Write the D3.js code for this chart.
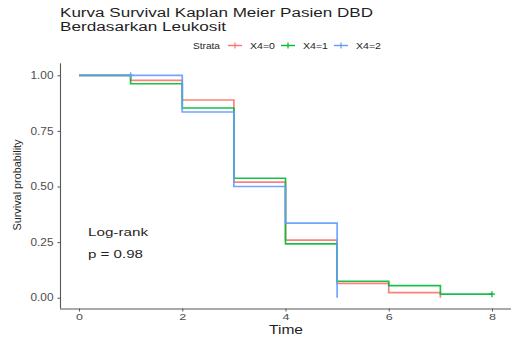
<!DOCTYPE html>
<html>
<head>
<meta charset="utf-8">
<script src="https://cdn.jsdelivr.net/npm/d3@7"></script>
<style>
  html, body { margin: 0; padding: 0; background: #fff; }
  svg { display: block; font-family: "Liberation Sans", Arial, sans-serif; }
</style>
</head>
<body>
<div id="chart"></div>
<script>
// Kaplan-Meier estimates per stratum (time, survival)
const strata = ["X4=0", "X4=1", "X4=2"];
const colors = ["#F8766D", "#00BA38", "#619CFF"];

const timesX40 = [0, 1, 2, 3, 4, 5, 6, 7];
const survX40 = [1, 0.977, 0.889, 0.52, 0.259, 0.064, 0.023, 0];

const timesX41 = [0, 1, 2, 3, 4, 5, 6, 7, 8];
const survX41 = [1, 0.962, 0.853, 0.537, 0.242, 0.074, 0.054, 0.016, 0.016];

const timesX42 = [0, 2, 3, 4, 5];
const survX42 = [1, 0.835, 0.5, 0.335, 0];

// censor marks
const censorTimes = [1, 8];
const censorSurv = [1, 0.016];
const censorStrata = [2, 1];

const xTicks = [0, 2, 4, 6, 8];
const yTicks = [0, 0.25, 0.5, 0.75, 1];

const width = 511, height = 338;
const margin = { top: 60, right: 0, bottom: 30, left: 60 };

const svg = d3.select("#chart").append("svg")
  .attr("width", width)
  .attr("height", height);

// the picture is stretched sideways, so horizontal texts are widened
function label(txt, xPos, yPos, size, len, anchor) {
  const t = svg.append("text")
    .attr("x", xPos).attr("y", yPos)
    .attr("font-size", size)
    .attr("fill", "#1f1f1f")
    .attr("text-anchor", anchor || "start")
    .text(txt);
  if (len) t.attr("textLength", len).attr("lengthAdjust", "spacingAndGlyphs");
  return t;
}

const x = d3.scaleLinear().domain([0, 8]).range([79, 492]);
const y = d3.scaleLinear().domain([0, 1]).range([297.7, 75.3]);

// axes
const xAxis = svg.append("g")
  .attr("transform", "translate(0,308.5)")
  .call(d3.axisBottom(x).tickValues(xTicks).tickSize(3).tickPadding(2).tickFormat(d3.format("d")));
xAxis.select(".domain").attr("d", `M${margin.left},0.5H${width}`);

const yAxis = svg.append("g")
  .attr("transform", "translate(60.5,0)")
  .call(d3.axisLeft(y).tickValues(yTicks).tickSize(3).tickPadding(4).tickFormat(d3.format(".2f")));
yAxis.select(".domain").attr("d", `M0,${y(1) - 12}V308.5`);

[xAxis, yAxis].forEach(g => {
  g.selectAll(".domain").attr("stroke", "#555").attr("stroke-width", 1.1);
  g.selectAll(".tick line").attr("stroke", "#555");
  g.selectAll("text").attr("fill", "#4d4d4d").attr("font-size", 10)
    .attr("font-family", "Liberation Sans, Arial, sans-serif");
});
yAxis.selectAll("text").attr("textLength", 23).attr("lengthAdjust", "spacingAndGlyphs");
xAxis.selectAll("text").attr("font-size", 9.5).attr("textLength", 7).attr("lengthAdjust", "spacingAndGlyphs");

// step curves
const series = [
  { t: timesX40, s: survX40 },
  { t: timesX41, s: survX41 },
  { t: timesX42, s: survX42 }
];

const line = d3.line()
  .x(d => x(d[0]))
  .y(d => y(d[1]))
  .curve(d3.curveStepAfter);

series.forEach((d, i) => {
  svg.append("path")
    .attr("d", line(d.t.map((t, j) => [t, d.s[j]])))
    .attr("fill", "none")
    .attr("stroke", colors[i])
    .attr("stroke-opacity", 0.9)
    .attr("stroke-width", 1.7);
});

censorTimes.forEach((t, i) => {
  const cx = x(t), cy = y(censorSurv[i]);
  svg.append("path")
    .attr("d", `M${cx - 3},${cy}H${cx + 3}M${cx},${cy - 3}V${cy + 3}`)
    .attr("stroke", colors[censorStrata[i]])
    .attr("stroke-width", 1.3);
});

// titles
label("Kurva Survival Kaplan Meier Pasien DBD", 60, 17, 12.5, 313);
label("Berdasarkan Leukosit", 60, 31, 12.5, 166);

label("Time", 286, 334, 12, 34, "middle");

svg.append("text")
  .attr("transform", `translate(21,185) rotate(-90)`)
  .attr("text-anchor", "middle").attr("font-size", 10.5).attr("fill", "#1f1f1f")
  .attr("textLength", 91).attr("lengthAdjust", "spacingAndGlyphs")
  .text("Survival probability");

// log-rank annotation
label("Log-rank", 88, 236, 11.5, 60);
label("p = 0.98", 88, 258, 11.5, 55);

// legend
label("Strata", 193, 49, 8.5, 27);
const keyX = [228, 281, 334];
strata.forEach((s, i) => {
  const g = svg.append("g").attr("transform", `translate(${keyX[i]},45.5)`);
  g.append("line").attr("x1", 0).attr("x2", 14).attr("y1", 0).attr("y2", 0)
    .attr("stroke", colors[i]).attr("stroke-width", 1.4);
  g.append("line").attr("x1", 7).attr("x2", 7).attr("y1", -3).attr("y2", 3)
    .attr("stroke", colors[i]).attr("stroke-width", 1.2);
  label(s, keyX[i] + 22, 49, 8.5, 25);
});
</script>
</body>
</html>
